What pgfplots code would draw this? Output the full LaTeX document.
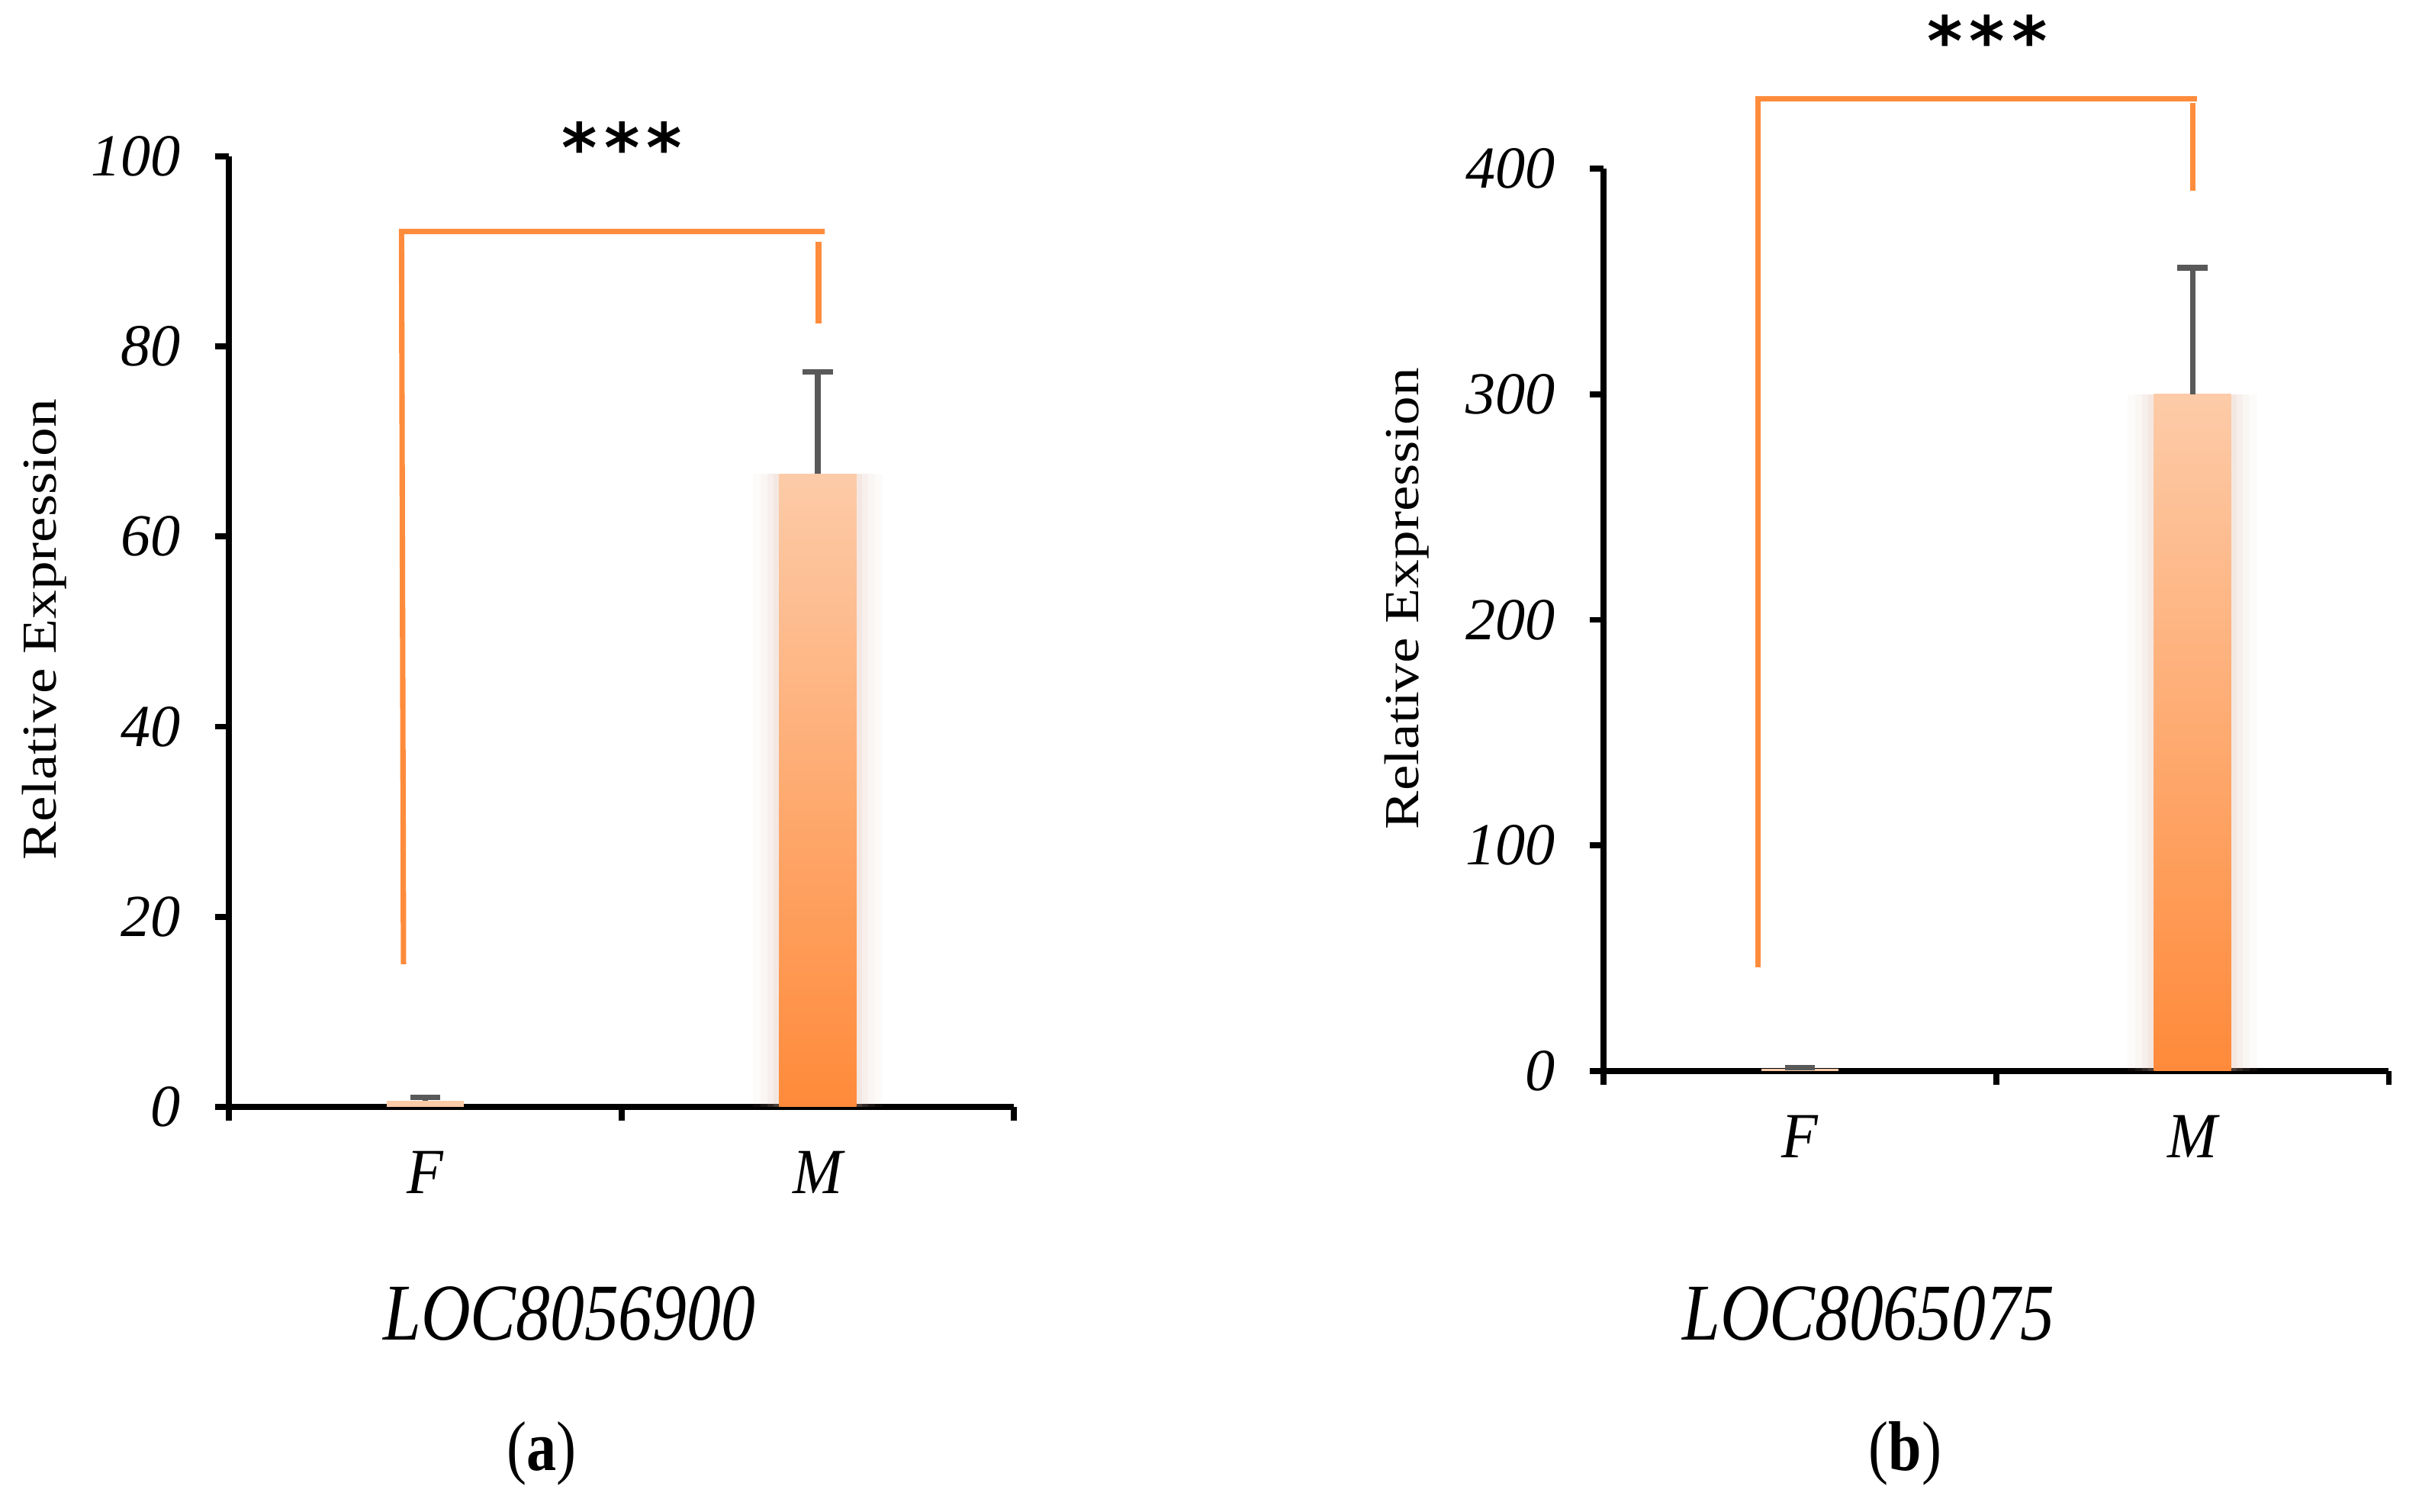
\documentclass[border=0pt]{standalone}
\usepackage{pgfplots}
\pgfplotsset{compat=1.18}
\usepackage{graphicx}
\usepackage{fontspec}
\setmainfont{Liberation Serif}
\newfontfamily\starfont{DejaVu Sans}
\definecolor{barTop}{HTML}{FDCBA8}
\definecolor{barBot}{HTML}{FF8A3A}
\definecolor{brk}{HTML}{FF8C3C}
\definecolor{errg}{HTML}{595959}
\definecolor{glow}{HTML}{DDB8A5}
\pgfplotsset{panel/.style={
  scale only axis, axis lines=left,
  axis line style={-, line width=1.1pt, black},
  xmin=0, xmax=2, ymin=0,
  xtick={0,1,2}, xticklabels={},
  tick align=outside, major tick length=0.9mm,
  tick style={line width=1.1pt, black},
  yticklabel style={font=\fontsize{11}{13}\selectfont\itshape, xshift=-1mm},
  /pgf/number format/assume math mode=true,
  clip=false}}
\newcommand{\stars}{*\hspace{0.45mm}*\hspace{0.45mm}*}
\begin{document}
\begin{tikzpicture}
\path[use as bounding box] (0,0) rectangle (156.8mm,98mm);
% ---------- panel (a)
\begin{axis}[panel, at={(14.83mm,26.26mm)}, anchor=south west,
  width=50.9mm, height=61.61mm, ymax=100, ytick={0,20,40,60,80,100}]
\addplot[ybar, bar width=8.4mm, draw=none, fill=glow, fill opacity=0.06, forget plot] coordinates {(1.5,66.6)};
\addplot[ybar, bar width=7.4mm, draw=none, fill=glow, fill opacity=0.08, forget plot] coordinates {(1.5,66.6)};
\addplot[ybar, bar width=6.5mm, draw=none, fill=glow, fill opacity=0.11, forget plot] coordinates {(1.5,66.6)};
\addplot[ybar, bar width=5.7mm, draw=none, fill=glow, fill opacity=0.14, forget plot] coordinates {(1.5,66.6)};
\addplot[ybar, bar width=5mm, draw=none, top color=barTop, bottom color=barBot] coordinates {(1.5,66.6)};
\addplot[ybar, bar width=5mm, draw=none, fill=barTop] coordinates {(0.5,0.6)};
\addplot[draw=none, mark=none, error bars/.cd, y dir=plus, y explicit,
  error bar style={draw=errg, line width=1pt},
  error mark options={rotate=90, mark size=0.97mm, draw=errg, line width=1pt}]
  coordinates {(0.5,0.6) +- (0,0.4) (1.5,66.6) +- (0,10.7)};
\draw[brk, line width=1pt] (axis cs:0.445,15) -- (axis cs:0.440,92.1) -- (axis cs:1.518,92.1);
\draw[brk, line width=1pt] (axis cs:1.502,91) -- (axis cs:1.502,82.4);
\node[font=\fontsize{11}{13}\selectfont\itshape] at (axis cs:0.5,0) [yshift=-4.25mm] {\scalebox{1}[1.08]{F}};
\node[font=\fontsize{11}{13}\selectfont\itshape] at (axis cs:1.5,0) [yshift=-4.25mm] {\scalebox{1}[1.08]{M}};
\end{axis}
% ---------- panel (b)
\begin{axis}[panel, at={(103.94mm,28.58mm)}, anchor=south west,
  width=50.9mm, height=58.5mm, ymax=400, ytick={0,100,200,300,400}]
\addplot[ybar, bar width=8.4mm, draw=none, fill=glow, fill opacity=0.06, forget plot] coordinates {(1.5,300)};
\addplot[ybar, bar width=7.4mm, draw=none, fill=glow, fill opacity=0.08, forget plot] coordinates {(1.5,300)};
\addplot[ybar, bar width=6.5mm, draw=none, fill=glow, fill opacity=0.11, forget plot] coordinates {(1.5,300)};
\addplot[ybar, bar width=5.7mm, draw=none, fill=glow, fill opacity=0.14, forget plot] coordinates {(1.5,300)};
\addplot[ybar, bar width=5mm, draw=none, top color=barTop, bottom color=barBot] coordinates {(1.5,300)};
\addplot[ybar, bar width=5mm, draw=none, fill=barTop] coordinates {(0.5,1.0)};
\addplot[draw=none, mark=none, error bars/.cd, y dir=plus, y explicit,
  error bar style={draw=errg, line width=1pt},
  error mark options={rotate=90, mark size=0.97mm, draw=errg, line width=1pt}]
  coordinates {(0.5,1.0) +- (0,0.5) (1.5,300) +- (0,56)};
\draw[brk, line width=1pt] (axis cs:0.394,46) -- (axis cs:0.394,431) -- (axis cs:1.512,431);
\draw[brk, line width=1pt] (axis cs:1.500,429) -- (axis cs:1.500,390);
\node[font=\fontsize{11}{13}\selectfont\itshape] at (axis cs:0.5,0) [yshift=-4.25mm] {\scalebox{1}[1.08]{F}};
\node[font=\fontsize{11}{13}\selectfont\itshape] at (axis cs:1.5,0) [yshift=-4.25mm] {\scalebox{1}[1.08]{M}};
\end{axis}
% ---------- texts
\node[rotate=90, inner sep=0pt, font=\fontsize{10.6}{12}\selectfont] at (2.85mm,57.2mm) {\scalebox{1}[0.85]{Relative Expression}};
\node[rotate=90, inner sep=0pt, font=\fontsize{10.6}{12}\selectfont] at (91.2mm,59.2mm) {\scalebox{1}[0.85]{Relative Expression}};
\node[anchor=base, inner sep=0pt, font=\fontsize{12.6}{14}\selectfont\itshape] at (36.9mm,11.13mm) {\scalebox{1}[1.18]{LOC8056900}};
\node[anchor=base, inner sep=0pt, font=\fontsize{12.6}{14}\selectfont\itshape] at (121.1mm,11.13mm) {\scalebox{1}[1.18]{LOC8065075}};
\node[anchor=base, inner sep=0pt, font=\fontsize{11}{13}\selectfont] at (35.1mm,2.67mm) {\scalebox{1}[1.18]{(\textbf{a})}};
\node[anchor=base, inner sep=0pt, font=\fontsize{11}{13}\selectfont] at (123.5mm,2.67mm) {\scalebox{1}[1.18]{(\textbf{b})}};
\node[anchor=base, inner sep=0pt, font=\starfont\bfseries\fontsize{12.5}{15}\selectfont] at (40.32mm,86.85mm) {\stars};
\node[anchor=base, inner sep=0pt, font=\starfont\bfseries\fontsize{12.5}{15}\selectfont] at (128.8mm,93.75mm) {\stars};
\end{tikzpicture}
\end{document}
